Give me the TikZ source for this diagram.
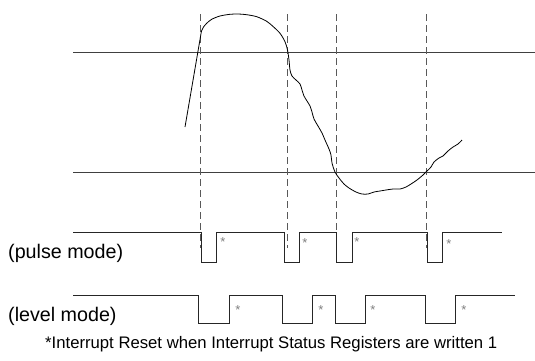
\documentclass[tikz,border=0pt]{standalone}
\usepackage{fontspec}
\setmainfont{Liberation Sans}
\begin{document}
\begin{tikzpicture}[x=1pt,y=-1pt,
  thr/.style={line width=1pt, draw=black!75},
  guide/.style={line width=0.9pt, draw=black!65, dash pattern=on 7pt off 4pt},
  wave/.style={line width=0.9pt, draw=black!85, line join=miter},
  sig/.style={line width=0.8pt, draw=black},
  lbl/.style={font=\fontsize{19.7}{22}\selectfont, inner sep=0pt, anchor=west},
  ast/.style={font=\fontsize{13}{14}\selectfont, text=black!50, inner sep=0pt, anchor=north},
  note/.style={font=\fontsize{16.7}{19}\selectfont, inner sep=0pt, anchor=west}]
\useasboundingbox (0,0) rectangle (535,360);

% thresholds
\draw[thr] (73,52) -- (535,52);
\draw[thr] (73,172) -- (535,172);

% dashed guides
\foreach \gx in {200,287,336,426}
  \draw[guide] (\gx,14) -- (\gx,248);

% signal
\draw[sig] (185,127) -- (200.6,36)
  plot[smooth, tension=0.5] coordinates {(200.6,36) (201.5,31) (203.3,27.3) (206.7,23.3) (211.7,19.3) (220,16) (230,14.3) (238.3,14) (246.7,14.7) (256.7,16.7) (266.7,21.3) (273.3,26.7) (280,33.3) (285,41.7) (287.5,50) (289,60) (290,70) (292,76) (296,80) (300,84) (302,90) (304,96) (307,101) (310,106) (312,112) (314,119) (318,126) (322,133) (325,140) (329,149) (331,155) (332,163) (335,172) (339,178) (344,184) (349,188) (356,192) (362,194) (368,194) (374,192) (380,191) (386,190) (393,189) (400,189) (406,187) (411,184) (417,180) (423,175) (427,171) (431,167) (434,162) (439,158) (443,156) (448,151) (453,147) (458,144) (462,140)};

% pulse mode
\draw[wave] (73,232) -- (201,232) -- (201,262) -- (216,262) -- (216,232) -- (284,232) -- (284,262) -- (299,262) -- (299,232) -- (336,232) -- (336,262) -- (352,262) -- (352,232) -- (427,232) -- (427,262) -- (442,262) -- (442,232) -- (502,232);

% level mode
\draw[wave] (73,295) -- (198,295) -- (198,323) -- (229,323) -- (229,295) -- (282,295) -- (282,323) -- (312,323) -- (312,295) -- (335,295) -- (335,323) -- (365,323) -- (365,295) -- (425,295) -- (425,323) -- (455,323) -- (455,295) -- (515,295);

% asterisks
\node[ast] (pa1) at (223,237) {*};
\node[ast] (pa2) at (305,238) {*};
\node[ast] (pa3) at (357,237) {*};
\node[ast] (pa4) at (449,239) {*};
\node[ast] (la1) at (238,305) {*};
\node[ast] (la2) at (321,305) {*};
\node[ast] (la3) at (373,305) {*};
\node[ast] (la4) at (464,305) {*};

% labels
\node[lbl] (pulse) at (8,253) {(pulse mode)};
\node[lbl] (level) at (8,316) {(level mode)};
\node[note] (foot) at (45,344) {*Interrupt Reset when Interrupt Status Registers are written 1};
\end{tikzpicture}
\end{document}
